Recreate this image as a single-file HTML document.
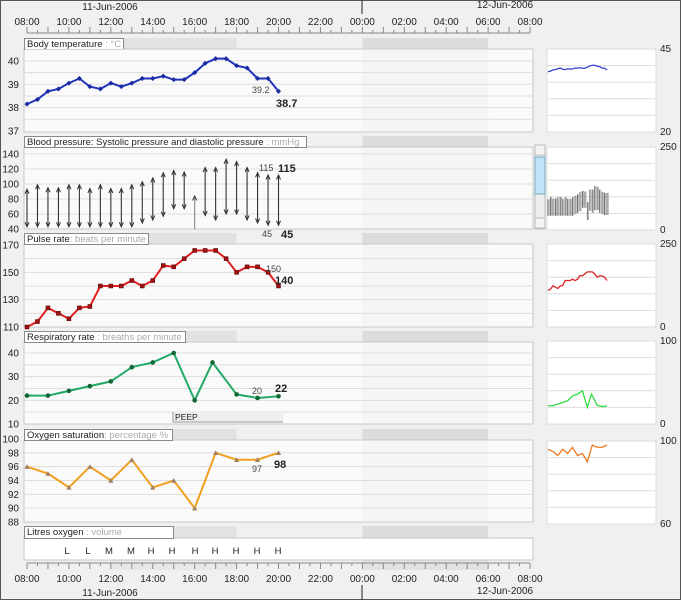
<!DOCTYPE html>
<html><head><meta charset="utf-8"><style>
html,body{margin:0;padding:0;background:#f0f0f0;}
svg{display:block;font-family:"Liberation Sans",sans-serif;}
</style></head><body>
<svg id="s" width="681" height="600" xmlns="http://www.w3.org/2000/svg"></svg>
<script>
const S=document.getElementById('s');let h='';
const XH=t=>27+(t-8)*20.96;
const add=s=>h+=s;
add('<rect x="0" y="0" width="681" height="600" fill="#f0f0f0"/>');
add('<rect x="0.5" y="0.5" width="680" height="599" fill="none" stroke="#555"/>');
function axis(y,lab,up){
  add(`<line x1="27" y1="${y}" x2="530" y2="${y}" stroke="#888"/>`);
  for(let t=8;t<=32;t+=0.5){const x=XH(t);const L=(t%1==0)?6:3;
    add(`<line x1="${x}" y1="${y}" x2="${x}" y2="${up?y-L:y+L}" stroke="#888"/>`);}
  for(let t=8;t<=32;t+=2){const hh=String(t%24).padStart(2,'0')+':00';
    add(`<text x="${XH(t)}" y="${lab}" font-size="10" text-anchor="middle" fill="#222">${hh}</text>`);}
}
add(`<line x1="362" y1="0" x2="362" y2="14" stroke="#222"/>`);
add(`<text x="110" y="10" font-size="10" text-anchor="middle" fill="#222">11-Jun-2006</text>`);
add(`<text x="505" y="8" font-size="10" text-anchor="middle" fill="#222">12-Jun-2006</text>`);
axis(33,25,true);
add(`<rect x="${XH(12)}" y="560" width="${XH(18)-XH(12)}" height="10" fill="#e8e8e8"/>`);
add(`<rect x="${XH(24)}" y="560" width="${XH(30)-XH(24)}" height="10" fill="#e2e2e2"/>`);
axis(563,582,false);
add(`<line x1="362" y1="585" x2="362" y2="600" stroke="#222"/>`);
add(`<text x="110" y="596" font-size="10" text-anchor="middle" fill="#222">11-Jun-2006</text>`);
add(`<text x="505" y="594" font-size="10" text-anchor="middle" fill="#222">12-Jun-2006</text>`);

function panel(ty,py,pb,lw,title,unit){
  add(`<rect x="${XH(12)}" y="${ty}" width="${XH(18)-XH(12)}" height="${py-ty}" fill="#e2e2e2"/>`);
  add(`<rect x="${XH(24)}" y="${ty}" width="${XH(30)-XH(24)}" height="${py-ty}" fill="#dcdcdc"/>`);
  add(`<rect x="24" y="${py}" width="509" height="${pb-py}" fill="#fafafa" stroke="#c8c8c8"/>`);
  add(`<rect x="${XH(24)}" y="${py+1}" width="${XH(30)-XH(24)}" height="${pb-py-2}" fill="#f5f5f5"/>`);
  add(`<rect x="24.5" y="${ty+0.5}" width="${lw}" height="${py-ty}" fill="#fff" stroke="#888"/>`);
  add(`<text x="27" y="${ty+9}" font-size="9.5" fill="#222">${title}<tspan fill="#aaa">${unit}</tspan></text>`);
}
function grid(vals,f){vals.forEach(v=>{const y=f(v);add(`<line x1="25" y1="${y}" x2="532" y2="${y}" stroke="#ddd"/>`);});}
function yl(vals,f){vals.forEach(v=>add(`<text x="19" y="${f(v)+3.5}" font-size="10" text-anchor="end" fill="#222">${v}</text>`));}
function mini(y0,y1,top,bot,pts,col,lbl){
  add(`<rect x="547" y="${y0}" width="109" height="${y1-y0}" fill="#fff" stroke="#ddd"/>`);
  for(let i=1;i<5;i++){const y=y0+(y1-y0)*i/5;add(`<line x1="548" y1="${y}" x2="655" y2="${y}" stroke="#ddd"/>`);}
  add(`<text x="660" y="${y0+3}" font-size="10" fill="#222">${top}</text>`);
  add(`<text x="660" y="${y1+3}" font-size="10" fill="#222">${bot}</text>`);
  if(pts) add(`<polyline points="${pts}" fill="none" stroke="${col}" stroke-width="1.3"/>`);
}
const MX=t=>548+(t-8)*59/12;

const temp=[38.15,38.35,38.7,38.8,39.05,39.25,38.9,38.8,39.05,38.9,39.05,39.25,39.25,39.35,39.2,39.2,39.5,39.9,40.1,40.1,39.8,39.7,39.25,39.25,38.7];
const fT=v=>61+(40-v)*23.3;
panel(38,49,132,99,'Body temperature',' : °C');
grid([37.5,38,38.5,39,39.5,40,40.5],fT);yl([40,39,38,37],fT);
add(`<polyline points="${temp.map((v,i)=>XH(8+i/2)+','+fT(v)).join(' ')}" fill="none" stroke="#2233bb" stroke-width="2"/>`);
temp.forEach((v,i)=>add(`<rect x="${XH(8+i/2)-1.8}" y="${fT(v)-1.8}" width="3.6" height="3.6" fill="#1a2aa0" transform="rotate(45 ${XH(8+i/2)} ${fT(v)})"/>`));
add(`<text x="252" y="93" font-size="9" fill="#444">39.2</text><text x="276" y="107" font-size="11" font-weight="bold" fill="#222">38.7</text>`);
mini(49,132,45,20,temp.map((v,i)=>MX(8+i/2)+','+(132-(v-20)*83/25)).join(' '),'#3344cc');

const bp=[[93,43],[99,43],[95,43],[95,43],[99,43],[99,43],[94,43],[99,43],[94,43],[94,43],[99,43],[103,48],[108,52],[115,57],[118,67],[116,67],[84,null],[122,58],[122,52],[133,60],[130,60],[122,52],[115,48],[112,45],[112,45]];
const fB=v=>229-(v-40)*0.75;
panel(136,147,229,282,'Blood pressure: Systolic pressure and diastolic pressure',' : mmHg');
grid([60,80,100,120,140],fB);yl([140,120,100,80,60,40],fB);
bp.forEach((p,i)=>{const x=XH(8+i/2);const a=fB(p[0]);const b=p[1]?fB(p[1]):229;
  add(`<line x1="${x}" y1="${a}" x2="${x}" y2="${b}" stroke="${p[1]?'#333':'#888'}" stroke-width="1.1"/>`);
  add(`<path d="M${x-2} ${a+4.5}L${x} ${a}L${x+2} ${a+4.5}" fill="none" stroke="#333"/>`);
  if(p[1]) add(`<path d="M${x-2} ${b-4.5}L${x} ${b}L${x+2} ${b-4.5}" fill="none" stroke="#333"/>`);});
add(`<text x="259" y="171" font-size="9" fill="#444">115</text><text x="278" y="172" font-size="11" font-weight="bold" fill="#222">115</text>`);
add(`<text x="262" y="237" font-size="9" fill="#444">45</text><text x="281" y="238" font-size="11" font-weight="bold" fill="#222">45</text>`);
add(`<rect x="535" y="145" width="10" height="84" fill="#eee" stroke="#bbb"/><rect x="535" y="157" width="10" height="37" fill="#bfe3f8" stroke="#7ab"/>`);
add(`<rect x="535" y="145" width="10" height="10" fill="#f4f4f4" stroke="#bbb"/><rect x="535" y="218" width="10" height="10" fill="#f4f4f4" stroke="#bbb"/>`);
mini(147,230,250,0,null);
bp.forEach((p,i)=>{const x=MX(8+i/2);add(`<line x1="${x}" y1="${230-p[0]*83/250}" x2="${x}" y2="${230-(p[1]||30)*83/250}" stroke="#555" stroke-width="0.8"/>`);
  add(`<line x1="${x+1.2}" y1="${230-p[0]*83/250}" x2="${x+1.2}" y2="${230-(p[1]||30)*83/250}" stroke="#999" stroke-width="0.7"/>`);});

const pul=[110,114,124,120,116,124,125,140,140,140,144,140,144,155,154,160,166,166,166,160,150,154,154,150,140];
const fP=v=>327-(v-110)*82/60;
panel(233,244,327,124,'Pulse rate',': beats per minute');
grid([120,130,140,150,160],fP);yl([170,150,130,110],fP);
add(`<polyline points="${pul.map((v,i)=>XH(8+i/2)+','+fP(v)).join(' ')}" fill="none" stroke="#e02020" stroke-width="2"/>`);
pul.forEach((v,i)=>add(`<rect x="${XH(8+i/2)-2}" y="${fP(v)-2}" width="4" height="4" fill="#a01010" stroke="#500" stroke-width=".5"/>`));
add(`<text x="266" y="272" font-size="9" fill="#444">150</text><text x="275" y="284" font-size="11" font-weight="bold" fill="#222">140</text>`);
mini(244,327,250,0,pul.map((v,i)=>MX(8+i/2)+','+(327-v*83/250)).join(' '),'#dd2222');

const rs=[[8,22],[9,22],[10,24],[11,26],[12,28],[13,34],[14,36],[15,40],[16,20],[16.85,36],[18,22.5],[19,21],[20,21.7]];
const fR=v=>424-(v-10)*71/30;
panel(331,342,424,161,'Respiratory rate',' : breaths per minute');
grid([15,20,25,30,35,40],fR);yl([40,30,20,10],fR);
add(`<polyline points="${rs.map(p=>XH(p[0])+','+fR(p[1])).join(' ')}" fill="none" stroke="#22aa66" stroke-width="2"/>`);
rs.forEach(p=>add(`<circle cx="${XH(p[0])}" cy="${fR(p[1])}" r="2.3" fill="#116633"/>`));
add(`<rect x="173" y="412" width="110" height="10" fill="#eee"/><line x1="173" y1="412" x2="173" y2="422" stroke="#999"/><line x1="173" y1="422" x2="283" y2="422" stroke="#999"/><text x="175" y="420" font-size="8.5" fill="#222">PEEP</text>`);
add(`<text x="252" y="394" font-size="9" fill="#444">20</text><text x="275" y="392" font-size="11" font-weight="bold" fill="#222">22</text>`);
mini(341,424,100,0,rs.map(p=>MX(p[0])+','+(424-p[1]*83/100)).join(' '),'#33dd44');

const o2=[[8,96],[9,95],[10,93],[11,96],[12,94],[13,97],[14,93],[15,94],[16,90],[17,98],[18,97],[19,97],[20,98]];
const fO=v=>522-(v-88)*83/12;
panel(429,440,522,148,'Oxygen saturation',': percentage %');
grid([90,92,94,96,98],fO);yl([100,98,96,94,92,90,88],fO);
add(`<polyline points="${o2.map(p=>XH(p[0])+','+fO(p[1])).join(' ')}" fill="none" stroke="#f0a020" stroke-width="2"/>`);
o2.forEach(p=>{const x=XH(p[0]),y=fO(p[1]);add(`<path d="M${x-2.6} ${y+2.2}L${x} ${y-2.6}L${x+2.6} ${y+2.2}Z" fill="#a08060"/>`);});
add(`<text x="252" y="472" font-size="9" fill="#444">97</text><text x="274" y="468" font-size="11" font-weight="bold" fill="#222">98</text>`);
mini(441,524,100,60,o2.map(p=>MX(p[0])+','+(524-(p[1]-60)*83/40)).join(' '),'#ee7722');

panel(526,538,560,149,'Litres oxygen',' : volume');
add(`<rect x="25" y="539" width="507" height="20" fill="#fff"/>`);
'L L M M H H H H H H H'.split(' ').forEach((c,i)=>{const xs=[67,88,109,131,151,172,195,215,236,257,278];
  add(`<text x="${xs[i]}" y="554" font-size="9.5" text-anchor="middle" fill="#222">${c}</text>`);});
S.innerHTML=h;
</script>
</body></html>
